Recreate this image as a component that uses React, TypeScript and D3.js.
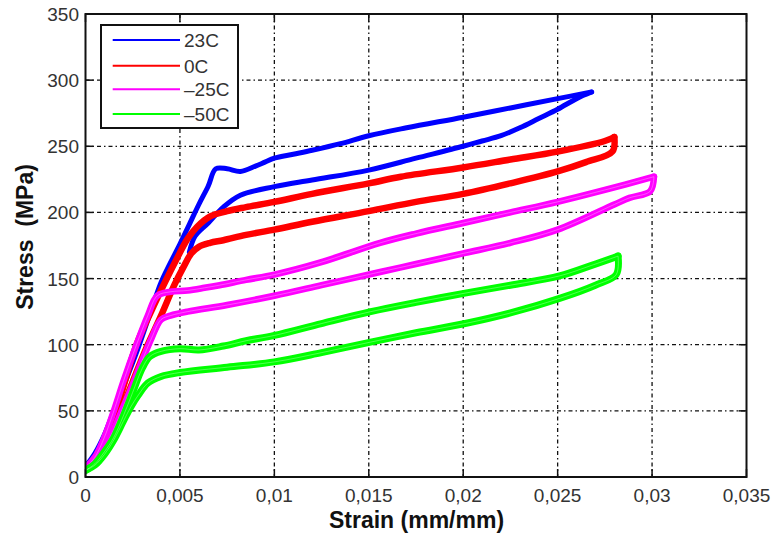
import React from "react";
import * as d3 from "d3";

type Pt = [number, number];

// strain (mm/mm), stress (MPa)
const load23C: Pt[] = [
  [0, 8], [0.0005, 18], [0.001, 32], [0.0015, 50], [0.002, 68], [0.0028, 98], [0.0035, 127],
  [0.004, 147], [0.0045, 162], [0.005, 176], [0.0055, 191], [0.006, 206], [0.0065, 220],
  [0.0069, 233], [0.0075, 233], [0.0082, 231], [0.009, 235], [0.0095, 238],
  [0.01, 241], [0.011, 244], [0.012, 247], [0.0135, 252], [0.015, 258], [0.017, 264],
  [0.02, 272], [0.0225, 279], [0.025, 286], [0.0268, 291],
];
const unload23C: Pt[] = [
  [0.0268, 291], [0.026, 286], [0.025, 278], [0.024, 271], [0.023, 264], [0.022, 258],
  [0.021, 254], [0.02, 250], [0.0175, 241], [0.015, 232], [0.012, 224.5], [0.01, 219.5],
  [0.0082, 213], [0.0073, 204], [0.0065, 192], [0.0058, 182], [0.0055, 170],
];

const load0C: Pt[] = [
  [0, 7], [0.0005, 13], [0.001, 26], [0.0015, 44], [0.002, 68], [0.0027, 100], [0.0035, 126],
  [0.0042, 147], [0.0048, 164], [0.0054, 180], [0.0059, 189], [0.0066, 197], [0.0075, 201],
  [0.0085, 204], [0.01, 208], [0.012, 214], [0.015, 222], [0.0167, 227], [0.02, 234],
  [0.0225, 240], [0.025, 246], [0.0275, 254], [0.028, 257],
];
const unload0C: Pt[] = [
  [0.028, 257], [0.0279, 246], [0.0265, 238], [0.025, 231], [0.0225, 222], [0.02, 214],
  [0.0175, 208], [0.015, 201], [0.012, 193], [0.01, 187], [0.0085, 183], [0.0073, 179],
  [0.0066, 177], [0.006, 174], [0.0056, 169], [0.0052, 159], [0.0047, 145], [0.004, 122],
  [0.0032, 97], [0.0025, 72], [0.002, 54], [0.0015, 36], [0.001, 22], [0.0005, 12], [0, 7],
];

const loadM25C: Pt[] = [
  [0, 7], [0.0005, 15], [0.001, 30], [0.0015, 50], [0.002, 72], [0.0027, 100], [0.0033, 122],
  [0.0038, 137], [0.0045, 140], [0.0054, 141], [0.0063, 143], [0.0071, 145], [0.0085, 149],
  [0.01, 153], [0.0124, 162], [0.0156, 177], [0.0175, 184], [0.02, 192], [0.0225, 200],
  [0.025, 208], [0.0275, 217], [0.0301, 227],
];
const unloadM25C: Pt[] = [
  [0.0301, 227], [0.0299, 216], [0.0288, 211], [0.028, 206], [0.025, 187], [0.0225, 177],
  [0.02, 169], [0.0175, 161], [0.0156, 155], [0.0125, 145], [0.01, 137], [0.0075, 130],
  [0.0054, 125], [0.0045, 122], [0.004, 119], [0.0035, 105], [0.003, 88], [0.0025, 70],
  [0.002, 53], [0.0015, 36], [0.001, 22], [0.0005, 12], [0, 7],
];

const loadM50C: Pt[] = [
  [0, 5], [0.0005, 10], [0.001, 19], [0.0015, 30], [0.002, 46], [0.0025, 64], [0.003, 82],
  [0.0034, 91], [0.004, 95], [0.005, 97], [0.006, 96], [0.0073, 99], [0.0085, 103],
  [0.01, 107], [0.0125, 116], [0.0151, 125], [0.0175, 132], [0.0201, 139], [0.0225, 145],
  [0.0251, 152], [0.0268, 160], [0.0282, 167],
];
const unloadM50C: Pt[] = [
  [0.0282, 167], [0.0281, 153], [0.027, 145], [0.0251, 135], [0.0225, 124], [0.0201, 116],
  [0.0175, 109], [0.0151, 102], [0.0125, 94], [0.01, 87], [0.0075, 83], [0.005, 79],
  [0.004, 76], [0.0033, 71], [0.0028, 62], [0.0024, 53], [0.002, 42], [0.0015, 28],
  [0.001, 17], [0.0005, 9], [0, 5],
];

const seriesNames = ["23C", "0C", "\u201325C", "\u201350C"];
const seriesColors = ["#0000ff", "#ff0000", "#ff00ff", "#00ff00"];
const seriesBranches = [
  [load23C, unload23C],
  [load0C, unload0C],
  [loadM25C, unloadM25C],
  [loadM50C, unloadM50C],
];
const seriesWidths = [5, 6.5, 6.5, 7];
const seriesTexture = [0, 0, 0.4, 0.4];

const xTicks = [0, 0.005, 0.01, 0.015, 0.02, 0.025, 0.03, 0.035];
const xTickLabels = ["0", "0,005", "0,01", "0,015", "0,02", "0,025", "0,03", "0,035"];
const yTicks = [0, 50, 100, 150, 200, 250, 300, 350];
const yTickLabels = ["0", "50", "100", "150", "200", "250", "300", "350"];

const W = 773;
const H = 535;
const L = 85.5, R = 746.5, T = 14, B = 477;

export default function App() {
  const x = d3.scaleLinear().domain([0, 0.035]).range([L, R]);
  const y = d3.scaleLinear().domain([0, 350]).range([B, T]);
  const line = d3
    .line<Pt>()
    .x((d) => x(d[0]))
    .y((d) => y(d[1]))
    .curve(d3.curveCatmullRom.alpha(0.5));

  const font = "'Liberation Sans', Arial, Helvetica, sans-serif";
  const grid = "4,3,1.5,3";

  return (
    <svg
      width={W}
      height={H}
      style={{ position: "absolute", left: 0, top: 0, background: "#fff" }}
      fontFamily={font}
    >
      <defs>
        <clipPath id="clip">
          <rect x={L} y={T} width={R - L} height={B - T} />
        </clipPath>
      </defs>
      <rect x={0} y={0} width={W} height={H} fill="#fff" />
      {/* grid */}
      {xTicks.slice(1, -1).map((t) => (
        <line key={"gx" + t} x1={x(t)} x2={x(t)} y1={T} y2={B} stroke="#111" strokeWidth={1.3} strokeDasharray={grid} />
      ))}
      {yTicks.slice(1, -1).map((t) => (
        <line key={"gy" + t} x1={L} x2={R} y1={y(t)} y2={y(t)} stroke="#111" strokeWidth={1.3} strokeDasharray={grid} />
      ))}
      {/* data */}
      <g clipPath="url(#clip)">
        {seriesBranches.map((br, i) => (
          <g key={"s" + i}>
            {br.map((b, j) => (
              <path
                key={j}
                d={line(b) || ""}
                fill="none"
                stroke={seriesColors[i]}
                strokeWidth={seriesWidths[i]}
                strokeLinejoin="round"
                strokeLinecap="round"
              />
            ))}
            {seriesTexture[i] > 0 &&
              br.map((b, j) => (
                <path
                  key={"w" + j}
                  d={line(b) || ""}
                  fill="none"
                  stroke="#fff"
                  strokeOpacity={seriesTexture[i]}
                  strokeWidth={0.8}
                />
              ))}
          </g>
        ))}
      </g>
      {/* ticks */}
      {xTicks.map((t) => (
        <g key={"tx" + t}>
          <line x1={x(t)} x2={x(t)} y1={B} y2={B - 8} stroke="#111" strokeWidth={1.5} />
          <line x1={x(t)} x2={x(t)} y1={T} y2={T + 8} stroke="#111" strokeWidth={1.5} />
        </g>
      ))}
      {yTicks.map((t) => (
        <g key={"ty" + t}>
          <line x1={L} x2={L + 8} y1={y(t)} y2={y(t)} stroke="#111" strokeWidth={1.5} />
          <line x1={R} x2={R - 8} y1={y(t)} y2={y(t)} stroke="#111" strokeWidth={1.5} />
        </g>
      ))}
      {/* axes box */}
      <rect x={L} y={T} width={R - L} height={B - T} fill="none" stroke="#111" strokeWidth={2} />
      {/* tick labels */}
      {xTicks.map((t, i) => (
        <text key={"lx" + t} x={x(t)} y={502} textAnchor="middle" fontSize={19} fill="#333">
          {xTickLabels[i]}
        </text>
      ))}
      {yTicks.map((t, i) => (
        <text key={"ly" + t} x={79} y={y(t) + 7} textAnchor="end" fontSize={19} fill="#333">
          {yTickLabels[i]}
        </text>
      ))}
      {/* axis labels */}
      <text x={416.5} y={528} textAnchor="middle" fontSize={23} fontWeight="bold" fill="#111">
        Strain (mm/mm)
      </text>
      <text
        transform="translate(33,237) rotate(-90)"
        textAnchor="middle"
        fontSize={23}
        fontWeight="bold"
        fill="#111"
        style={{ whiteSpace: "pre" }}
      >
        {"Stress  (MPa)"}
      </text>
      {/* legend */}
      <rect x={101} y={25} width={137} height={103} fill="#fff" stroke="#111" strokeWidth={2} />
      {seriesNames.map((n, i) => {
        const ly = [40, 65.7, 89.3, 114][i];
        return (
          <g key={"lg" + i}>
            <line x1={112.7} x2={180} y1={ly} y2={ly} stroke={seriesColors[i]} strokeWidth={2} />
            <text x={184} y={ly + 7} fontSize={19} fill="#333">
              {n}
            </text>
          </g>
        );
      })}
    </svg>
  );
}
